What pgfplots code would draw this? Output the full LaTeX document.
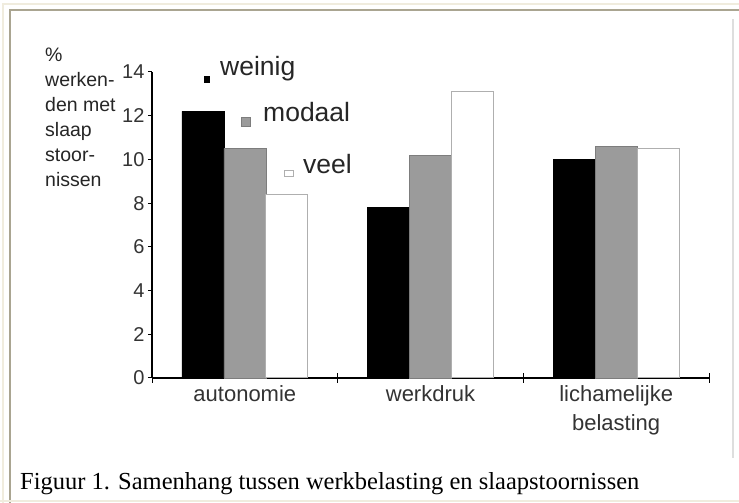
\documentclass[border=0pt]{standalone}
\usepackage{fontspec}
\setmainfont{Liberation Sans}
\newfontfamily\timesfont{Liberation Serif}
\usepackage{pgfplots}
\pgfplotsset{compat=1.18}
\definecolor{beigeL}{RGB}{240,236,222}
\definecolor{beigeD}{RGB}{170,165,145}
\definecolor{panelgrey}{RGB}{222,222,222}
\definecolor{barGrey}{RGB}{155,155,155}
\definecolor{barGreyEdge}{RGB}{125,125,125}
\definecolor{barWhiteEdge}{RGB}{175,175,175}
\begin{document}
\begin{tikzpicture}[x=1pt,y=1pt]
\path[use as bounding box] (0,0) rectangle (739,503);
\fill[white] (0,0) rectangle (739,503);
\draw[beigeL, line width=2] (3,0) -- (3,499) -- (739,499);
\draw[beigeD, line width=1.5] (10,0) -- (10,493) -- (739,493);
\draw[beigeL, line width=2] (0,2) -- (739,2);
\draw[panelgrey, line width=1.5] (733,45) -- (733,484);
\begin{axis}[
  at={(152pt,125pt)}, anchor=south west,
  scale only axis, width=557pt, height=306pt,
  xmin=-0.5, xmax=2.5, ymin=0, ymax=14,
  ybar=0pt, bar width=42pt,
  axis x line=bottom, axis y line=left,
  axis line style={-, line width=1.5pt},
  tick style={black, line width=1pt},
  tick align=outside,
  major tick length=4pt,
  xtick={0,1,2},
  xticklabels={autonomie, werkdruk, {lichamelijke\\belasting}},
  xticklabel style={align=center, font=\fontsize{22}{29}\selectfont, text=black!80},
  major x tick style={draw=none},
  extra x ticks={-0.5,0.5,1.5,2.5},
  extra x tick labels={},
  extra x tick style={tick align=center, major tick length=10pt, major x tick style={draw=black, line width=1pt}},
  ytick={0,2,...,14},
  yticklabel style={font=\fontsize{20}{20}\selectfont, text=black!80},
  /pgf/number format/assume math mode=true,
  clip=false,
]
\addplot[fill=black, draw=black] coordinates {(0,12.2) (1,7.8) (2,10.0)};
\addplot[fill=barGrey, draw=barGreyEdge] coordinates {(0,10.5) (1,10.2) (2,10.6)};
\addplot[fill=white, draw=barWhiteEdge, line width=1pt] coordinates {(0,8.4) (1,13.1) (2,10.5)};
\end{axis}
% legend
\fill[black] (204,420) rectangle (210,427);
\node[anchor=west, inner sep=0, font=\fontsize{26.5}{26.5}\selectfont, text=black!85] at (220,434) {weinig};
\fill[barGrey, draw=barGreyEdge] (241,377) rectangle (250,386);
\node[anchor=west, inner sep=0, font=\fontsize{26.5}{26.5}\selectfont, text=black!85] at (263,391) {modaal};
\draw[barWhiteEdge, fill=white, line width=1pt] (284,326) rectangle (293,332);
\node[anchor=west, inner sep=0, font=\fontsize{26.5}{26.5}\selectfont, text=black!85] at (303,339) {veel};
% y label
\node[anchor=north west, inner sep=0, align=left, font=\fontsize{19.5}{25}\selectfont, text=black!85] at (45,455) {\%\\werken-\\den met\\slaap\\stoor-\\nissen};
% caption
\node[anchor=base west, inner sep=0, font=\timesfont\fontsize{24.5}{25}\selectfont] at (20,13) {Figuur 1. Samenhang tussen werkbelasting en slaapstoornissen};
\end{tikzpicture}
\end{document}
